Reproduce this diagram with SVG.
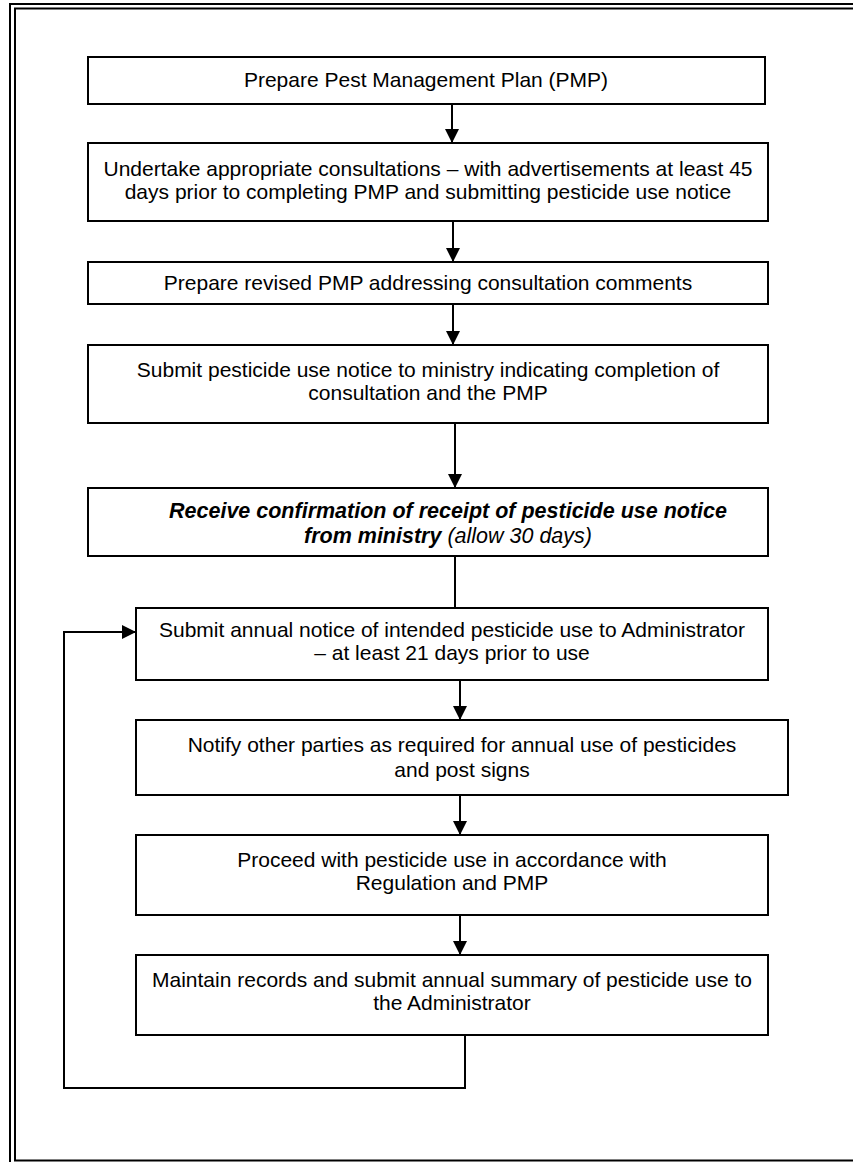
<svg xmlns="http://www.w3.org/2000/svg" width="853" height="1162" viewBox="0 0 853 1162">
<defs>
<style>
.frame{fill:none;stroke:#000;stroke-width:2}
.box{fill:#fff;stroke:#000;stroke-width:2}
.t{font-family:"Liberation Sans",Arial,sans-serif;font-size:21px;fill:#000;text-anchor:middle}
.bi{font-family:"Liberation Sans",Arial,sans-serif;font-size:21.5px;font-weight:bold;font-style:italic;fill:#000;text-anchor:middle}
.it{font-weight:normal;font-style:italic}
.c{fill:none;stroke:#000;stroke-width:2}
</style>
<marker id="ah" viewBox="0 0 10 10" refX="10" refY="5" markerWidth="7" markerHeight="7" markerUnits="strokeWidth" orient="auto">
<path d="M0,0 L10,5 L0,10 Z" fill="#000"/>
</marker>
</defs>
<rect width="853" height="1162" fill="#fff"/>
<g id="frame">
<rect class="frame" x="10" y="4" width="870" height="1180"/>
<rect class="frame" x="15" y="8.5" width="860" height="1152"/>
</g>
<g id="connectors">
<line class="c" x1="452" y1="104" x2="452" y2="143" marker-end="url(#ah)"/>
<line class="c" x1="453" y1="221" x2="453" y2="262" marker-end="url(#ah)"/>
<line class="c" x1="453" y1="304" x2="453" y2="345" marker-end="url(#ah)"/>
<line class="c" x1="455" y1="423" x2="455" y2="488" marker-end="url(#ah)"/>
<line class="c" x1="455" y1="556" x2="455" y2="608"/>
<line class="c" x1="460" y1="680" x2="460" y2="720" marker-end="url(#ah)"/>
<line class="c" x1="460" y1="795" x2="460" y2="835" marker-end="url(#ah)"/>
<line class="c" x1="460" y1="915" x2="460" y2="955" marker-end="url(#ah)"/>
<polyline class="c" points="465,1035 465,1088 64,1088 64,632 136,632" marker-end="url(#ah)"/>
</g>
<g id="n1">
<rect class="box" x="88" y="57" width="677" height="47"/>
<text class="t" x="426" y="87">Prepare Pest Management Plan (PMP)</text>
</g>
<g id="n2">
<rect class="box" x="88" y="143" width="680" height="78"/>
<text class="t" x="428" y="176">Undertake appropriate consultations – with advertisements at least 45</text>
<text class="t" x="428" y="199">days prior to completing PMP and submitting pesticide use notice</text>
</g>
<g id="n3">
<rect class="box" x="88" y="262" width="680" height="42"/>
<text class="t" x="428" y="290">Prepare revised PMP addressing consultation comments</text>
</g>
<g id="n4">
<rect class="box" x="88" y="345" width="680" height="78"/>
<text class="t" x="428" y="377">Submit pesticide use notice to ministry indicating completion of</text>
<text class="t" x="428" y="400">consultation and the PMP</text>
</g>
<g id="n5">
<rect class="box" x="88" y="488" width="680" height="68"/>
<text class="bi" x="448" y="518">Receive confirmation of receipt of pesticide use notice</text>
<text class="bi" x="448" y="543">from ministry<tspan class="it"> (allow 30 days)</tspan></text>
</g>
<g id="n6">
<rect class="box" x="136" y="608" width="632" height="72"/>
<text class="t" x="452" y="637">Submit annual notice of intended pesticide use to Administrator</text>
<text class="t" x="452" y="660">– at least 21 days prior to use</text>
</g>
<g id="n7">
<rect class="box" x="136" y="720" width="652" height="75"/>
<text class="t" x="462" y="752">Notify other parties as required for annual use of pesticides</text>
<text class="t" x="462" y="777">and post signs</text>
</g>
<g id="n8">
<rect class="box" x="136" y="835" width="632" height="80"/>
<text class="t" x="452" y="867">Proceed with pesticide use in accordance with</text>
<text class="t" x="452" y="890">Regulation and PMP</text>
</g>
<g id="n9">
<rect class="box" x="136" y="955" width="632" height="80"/>
<text class="t" x="452" y="987">Maintain records and submit annual summary of pesticide use to</text>
<text class="t" x="452" y="1010">the Administrator</text>
</g>
</svg>
